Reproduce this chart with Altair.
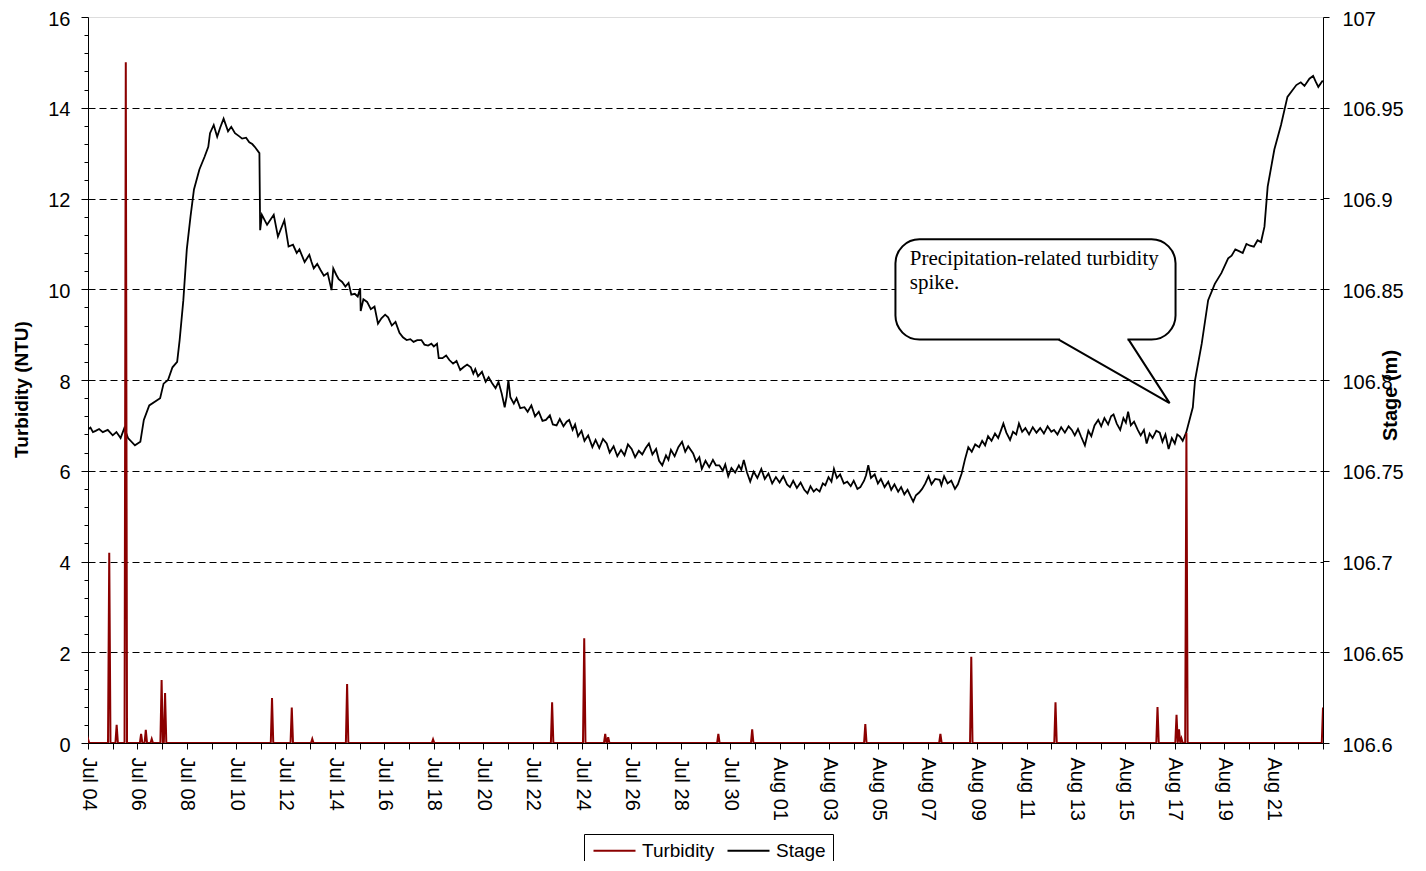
import altair as alt
import pandas as pd

START = pd.Timestamp("2008-07-04")

# ---- Stage (m): time in days after Jul 04 00:00, value in metres ----
stage_day_a = [0.02, 0.10, 0.20, 0.31, 0.45, 0.60, 0.80, 1.00, 1.15, 1.32, 1.47, 1.62, 1.90, 2.12,
               2.26, 2.48, 2.92, 3.06, 3.24, 3.42, 3.61, 3.71, 3.86, 4.00, 4.15, 4.29, 4.51, 4.72,
               4.87, 4.94, 5.09, 5.23, 5.35, 5.49, 5.67, 5.80, 5.95, 6.10, 6.24, 6.40, 6.53, 6.65,
               6.75, 6.94, 6.97, 7.04, 7.25, 7.52, 7.69, 7.95, 8.12, 8.30, 8.45, 8.56, 8.77, 8.96,
               9.05, 9.14, 9.28, 9.42, 9.55, 9.70, 9.86, 9.93, 10.05, 10.15, 10.29, 10.42, 10.55,
               10.66, 10.80, 10.92, 11.02, 11.04, 11.15, 11.30, 11.45, 11.60, 11.74, 11.88, 12.03,
               12.15, 12.30, 12.45, 12.61, 12.75, 12.90, 13.05, 13.18, 13.33, 13.50, 13.62, 13.77,
               13.90, 14.00, 14.13, 14.20, 14.35, 14.50, 14.63, 14.78, 14.92, 15.07, 15.20, 15.35]
stage_m_a = [106.773, 106.7738, 106.7713, 106.772, 106.773, 106.7713, 106.7725, 106.7695, 106.7713,
             106.768, 106.7735, 106.768, 106.764, 106.766, 106.778, 106.786, 106.790, 106.798,
             106.800, 106.807, 106.810, 106.822, 106.844, 106.872, 106.890, 106.905, 106.916,
             106.923, 106.9285, 106.936, 106.9405, 106.934, 106.939, 106.944, 106.937, 106.9395,
             106.936, 106.9345, 106.933, 106.9335, 106.931, 106.930, 106.9285, 106.925, 106.8825,
             106.891, 106.8855, 106.891, 106.879, 106.888, 106.8735, 106.8745, 106.870, 106.872,
             106.865, 106.869, 106.865, 106.8615, 106.864, 106.8605, 106.8575, 106.859, 106.8495,
             106.8615, 106.858, 106.8555, 106.854, 106.8515, 106.8535, 106.847, 106.8475, 106.846,
             106.8505, 106.838, 106.8445, 106.843, 106.839, 106.8405, 106.831, 106.834, 106.836,
             106.8345, 106.830, 106.832, 106.826, 106.8235, 106.822, 106.8225, 106.821, 106.822,
             106.822, 106.8195, 106.819, 106.820, 106.8185, 106.820, 106.812, 106.812, 106.8135,
             106.811, 106.809, 106.8105, 106.8055, 106.807, 106.8085]

stage_day_b = [15.50, 15.60, 15.68, 15.79, 15.95, 16.10, 16.22, 16.37, 16.50, 16.62, 16.75, 16.87,
               16.95, 17.02, 17.10, 17.24, 17.35, 17.50, 17.67, 17.80, 17.95, 18.10, 18.25, 18.40,
               18.54, 18.70, 18.82, 18.97, 19.10, 19.25, 19.38, 19.48, 19.62, 19.72, 19.84, 19.98,
               20.10, 20.25, 20.42, 20.55, 20.70, 20.85, 21.00, 21.12, 21.28, 21.43, 21.58, 21.72,
               21.86, 22.01, 22.15, 22.30, 22.44, 22.58, 22.71, 22.85, 23.00, 23.12, 23.25, 23.40,
               23.50, 23.60, 23.75, 23.90, 24.05, 24.18, 24.30, 24.50, 24.62, 24.75, 24.85, 25.00,
               25.15, 25.30, 25.42, 25.56, 25.70, 25.80, 25.92, 26.05, 26.20, 26.35, 26.45, 26.55,
               26.68, 26.81, 26.95, 27.10, 27.26, 27.40, 27.55, 27.70, 27.85, 28.00, 28.15, 28.30,
               28.42, 28.55, 28.70, 28.85, 29.00, 29.13, 29.25, 29.38, 29.49, 29.62, 29.75, 29.85,
               29.98, 30.10, 30.20, 30.32, 30.45, 30.60, 30.74, 30.88, 31.00, 31.15, 31.27, 31.42,
               31.50, 31.59, 31.70, 31.85, 31.98, 32.10, 32.25, 32.40, 32.52, 32.65, 32.80, 32.92,
               33.05, 33.18, 33.30, 33.41, 33.52, 33.65, 33.77, 33.90, 34.03, 34.15, 34.30, 34.48,
               34.55, 34.66, 34.80, 34.95, 35.10, 35.22, 35.37, 35.50, 35.64, 35.78, 35.92, 36.08,
               36.20, 36.32, 36.44, 36.58, 36.72, 36.85, 36.97, 37.06, 37.18, 37.33, 37.45, 37.58,
               37.69, 37.82, 37.95, 38.10, 38.25, 38.40, 38.55, 38.70, 38.85, 39.00, 39.11, 39.25,
               39.40, 39.55, 39.70, 39.83, 39.95, 40.08, 40.20, 40.36, 40.50, 40.62, 40.75, 40.90,
               41.02, 41.15, 41.30, 41.42, 41.52, 41.65, 41.79, 41.92, 42.02, 42.11, 42.22, 42.35,
               42.50, 42.62, 42.75, 42.86, 42.98, 43.10, 43.25, 43.39, 43.50, 43.62, 43.75, 43.88,
               44.00, 44.10, 44.20, 44.32, 44.46]
stage_m_b = [106.807, 106.8035, 106.806, 106.802, 106.8045, 106.799, 106.8015, 106.798, 106.7955,
             106.799, 106.7925, 106.785, 106.791, 106.800, 106.7905, 106.787, 106.790, 106.7845,
             106.785, 106.7825, 106.786, 106.780, 106.7825, 106.7775, 106.778, 106.7805, 106.7755,
             106.775, 106.7785, 106.7745, 106.777, 106.778, 106.7725, 106.7755, 106.769, 106.772,
             106.7665, 106.7695, 106.763, 106.767, 106.7625, 106.7675, 106.765, 106.760, 106.7635,
             106.758, 106.7615, 106.7585, 106.7645, 106.762, 106.7575, 106.761, 106.759, 106.7625,
             106.765, 106.759, 106.762, 106.7555, 106.753, 106.7585, 106.756, 106.7615, 106.758,
             106.763, 106.766, 106.7605, 106.7635, 106.7595, 106.755, 106.7575, 106.751, 106.7555,
             106.752, 106.756, 106.753, 106.753, 106.750, 106.7535, 106.747, 106.7515, 106.749,
             106.753, 106.7505, 106.756, 106.749, 106.744, 106.7495, 106.746, 106.751, 106.7455,
             106.7485, 106.743, 106.7465, 106.7435, 106.747, 106.7425, 106.741, 106.7445, 106.7405,
             106.7435, 106.7395, 106.7375, 106.7415, 106.7385, 106.740, 106.7385, 106.743, 106.742,
             106.7465, 106.744, 106.751, 106.746, 106.748, 106.743, 106.744, 106.7415, 106.7445,
             106.740, 106.741, 106.7445, 106.7475, 106.753, 106.746, 106.748, 106.743, 106.7455,
             106.741, 106.744, 106.7395, 106.7425, 106.7385, 106.741, 106.737, 106.7395, 106.736,
             106.733, 106.7365, 106.738, 106.740, 106.743, 106.747, 106.7425, 106.7455, 106.745,
             106.742, 106.747, 106.743, 106.7445, 106.740, 106.7425, 106.7485, 106.756, 106.763,
             106.7605, 106.7645, 106.763, 106.7665, 106.764, 106.769, 106.7665, 106.7705, 106.768,
             106.7725, 106.776, 106.771, 106.767, 106.7715, 106.770, 106.776, 106.7715, 106.7735,
             106.770, 106.774, 106.771, 106.7735, 106.7705, 106.7745, 106.7715, 106.7725, 106.770,
             106.774, 106.771, 106.7745, 106.7725, 106.7695, 106.773, 106.769, 106.764, 106.772,
             106.769, 106.775, 106.778, 106.7745, 106.779, 106.7755, 106.780, 106.781, 106.776,
             106.7725, 106.779, 106.7765, 106.7825, 106.775, 106.777, 106.7725, 106.7695, 106.7725,
             106.765, 106.7705, 106.768, 106.772, 106.771, 106.766, 106.770, 106.762, 106.768,
             106.765, 106.770, 106.769, 106.7665, 106.771]

stage_day_c = [44.73, 44.82, 45.09, 45.35, 45.62, 45.89, 46.16, 46.30, 46.45, 46.60, 46.75, 46.90,
               47.05, 47.20, 47.35, 47.49, 47.63, 47.76, 48.03, 48.30, 48.56, 48.92, 49.10, 49.25,
               49.45, 49.60, 49.70, 49.81, 49.99]
stage_m_c = [106.785, 106.800, 106.820, 106.844, 106.853, 106.859, 106.867, 106.8685, 106.872,
             106.871, 106.870, 106.875, 106.874, 106.8735, 106.877, 106.876, 106.8845, 106.9065,
             106.927, 106.9405, 106.956, 106.9625, 106.964, 106.962, 106.966, 106.9675, 106.9645,
             106.9615, 106.965]

# ---- Turbidity (NTU): spike times (days after Jul 04) and peak values; baseline 0 ----
turb_spike_day = [0.0, 0.86, 1.16, 1.53, 2.15, 2.34, 2.58, 2.98, 3.12, 7.45, 8.25, 9.08, 10.49,
                  13.97, 18.79, 20.09, 20.94, 21.06, 25.52, 26.89, 31.47, 34.51, 35.76, 39.17,
                  43.30, 44.07, 44.17, 44.27, 44.47, 50.0]
turb_spike_ntu = [0.09, 4.19, 0.4, 15.0, 0.2, 0.29, 0.09, 1.39, 1.1, 0.99, 0.78, 0.09, 1.3,
                  0.08, 0.9, 2.31, 0.2, 0.13, 0.2, 0.3, 0.42, 0.2, 1.9, 0.9,
                  0.79, 0.62, 0.3, 0.1, 6.83, 0.78]
SPIKE_HALF_WIDTH = 0.05  # days

series_names = ["Turbidity", "Stage"]
series_colors = ["#8B0000", "#000000"]

left_ticks = [round(i * 0.4, 1) for i in range(41)]
right_ticks = [106.6, 106.65, 106.7, 106.75, 106.8, 106.85, 106.9, 106.95, 107.0]

note_text = "Precipitation-related turbidity\nspike."
# callout geometry in data units (days after Jul 04, NTU)
box_d = (32.69, 44.03)
box_v = (8.89, 11.10)
tail_d = (39.30, 43.79, 42.13)
tail_v = (8.89, 7.49, 8.89)
text_d, text_v = 33.27, 10.90


def to_time(days):
    return START + pd.to_timedelta(pd.Series(days, dtype=float), unit="D")


stage_df = pd.DataFrame({"d": stage_day_a + stage_day_b + stage_day_c,
                         "value": stage_m_a + stage_m_b + stage_m_c}).sort_values("d")
stage_df["time"] = to_time(stage_df["d"].tolist()).values
stage_df["series"] = "Stage"
stage_df = stage_df[["time", "value", "series"]]

td, tv = [], []
for d, v in zip(turb_spike_day, turb_spike_ntu):
    td += [d - SPIKE_HALF_WIDTH, d, d + SPIKE_HALF_WIDTH]
    tv += [0.0, v, 0.0]
turb_df = pd.DataFrame({"d": td, "value": tv}).sort_values("d")
turb_df["time"] = to_time(turb_df["d"].tolist()).values
turb_df["series"] = "Turbidity"
turb_df = turb_df[["time", "value", "series"]]

box_df = pd.DataFrame({"time": to_time([box_d[0]]), "time2": to_time([box_d[1]]),
                       "v": [box_v[0]], "v2": [box_v[1]]})
cover_df = pd.DataFrame({"time": to_time([tail_d[0] + 0.05]), "time2": to_time([tail_d[2] - 0.05]),
                         "v": [box_v[0]]})
tail_df = pd.DataFrame({"time": to_time(list(tail_d)), "v": list(tail_v), "seq": [0, 1, 2]})
text_df = pd.DataFrame({"time": to_time([text_d]), "v": [text_v], "label": [note_text]})

FONT = "Liberation Sans"
x_values = []
for i in range(51):
    t = START + pd.Timedelta(days=i)
    x_values.append(alt.DateTime(year=t.year, month=t.month, date=t.day))
x_domain = [alt.DateTime(year=2008, month=7, date=4), alt.DateTime(year=2008, month=8, date=23)]

x_axis = alt.Axis(values=x_values,
                  labelExpr="(round((datum.value - datetime(2008,6,4))/864e5) % 2 == 0 && round((datum.value - datetime(2008,6,4))/864e5) < 49) ? timeFormat(datum.value, '%b %d') : ''",
                  labelAngle=90, labelAlign="left", labelBaseline="middle", labelFlush=False,
                  labelOverlap=False, tickSize=6, labelPadding=8, grid=False, title=None,
                  labelFont=FONT, labelFontSize=20, labelColor="black", tickColor="black",
                  domainColor="black")
X = alt.X("time:T", scale=alt.Scale(domain=x_domain), axis=x_axis)

major_test = "abs(datum.value/2 - round(datum.value/2)) < 0.01"
left_axis = alt.Axis(orient="left", values=left_ticks,
                     labelExpr=f"({major_test}) ? format(datum.value, 'd') : ''",
                     tickSize={"condition": {"test": major_test, "value": 7}, "value": 4},
                     gridOpacity={"condition": {"test": f"{major_test} && datum.value > 0.5 && datum.value < 15.5", "value": 1}, "value": 0},
                     grid=True, gridColor="black", gridDash=[7, 4], gridWidth=1,
                     labelPadding=11, labelOffset=2, labelFont=FONT, labelFontSize=20,
                     labelColor="black", tickColor="black", domainColor="black", labelOverlap=False,
                     title="Turbidity (NTU)", titleFont=FONT, titleFontSize=19, titleFontWeight="bold",
                     titleColor="black", titleAngle=270, titleX=-67, titleY=372,
                     titleAlign="center", titleBaseline="middle")
right_axis = alt.Axis(orient="right", values=right_ticks, format=".2~f", grid=False,
                      tickSize=6, labelPadding=13, labelOffset=2, labelFont=FONT, labelFontSize=20,
                      labelColor="black", tickColor="black", domainColor="black", labelOverlap=False,
                      title="Stage (m)", titleFont=FONT, titleFontSize=20, titleFontWeight="bold",
                      titleColor="black", titleAngle=270, titleX=67, titleY=378,
                      titleAlign="center", titleBaseline="middle")

color = alt.Color("series:N",
                  scale=alt.Scale(domain=series_names, range=series_colors),
                  legend=alt.Legend(orient="none", legendX=496, legendY=817, direction="horizontal",
                                    title=None, symbolType="M-1,0L5,0", symbolSize=196,
                                    symbolStrokeWidth=2, labelFont=FONT, labelFontSize=19,
                                    labelColor="black", labelOffset=32, columnPadding=8,
                                    padding=7, strokeColor="black", fillColor="white"))

turb = alt.Chart(turb_df).mark_line(strokeWidth=2, clip=True).encode(
    x=X,
    y=alt.Y("value:Q", scale=alt.Scale(domain=[0, 16], nice=False, zero=False), axis=left_axis),
    color=color,
)
stage = alt.Chart(stage_df).mark_line(strokeWidth=1.8, clip=True).encode(
    x=X,
    y=alt.Y("value:Q", scale=alt.Scale(domain=[106.6, 107.0], nice=False, zero=False), axis=right_axis),
    color=color,
)

ysc = alt.Scale(domain=[0, 16], nice=False, zero=False)
box = alt.Chart(box_df).mark_rect(fill="white", stroke="black", strokeWidth=2, cornerRadius=24).encode(
    x=X, x2="time2:T", y=alt.Y("v:Q", scale=ysc, axis=None), y2="v2:Q")
cover = alt.Chart(cover_df).mark_rule(color="white", strokeWidth=4).encode(
    x=X, x2="time2:T", y=alt.Y("v:Q", scale=ysc, axis=None))
tail = alt.Chart(tail_df).mark_line(color="black", strokeWidth=2).encode(
    x=X, y=alt.Y("v:Q", scale=ysc, axis=None), order="seq:Q")
text = alt.Chart(text_df).mark_text(font="Liberation Serif", fontSize=21, align="left",
                                    baseline="top", lineBreak="\n", lineHeight=24,
                                    color="black").encode(
    x=X, y=alt.Y("v:Q", scale=ysc, axis=None), text="label:N")
callout = alt.layer(box, cover, tail, text)

chart = alt.layer(callout, stage, turb).resolve_scale(y="independent").properties(
    width=1235, height=726,
    padding={"left": 80, "top": 9, "right": 88, "bottom": 118},
    autosize=alt.AutoSizeParams(type="none"),
).configure_view(stroke="black", strokeWidth=1).configure(background="white")

chart.save("out.html", embed_options={"renderer": "svg", "actions": False})
